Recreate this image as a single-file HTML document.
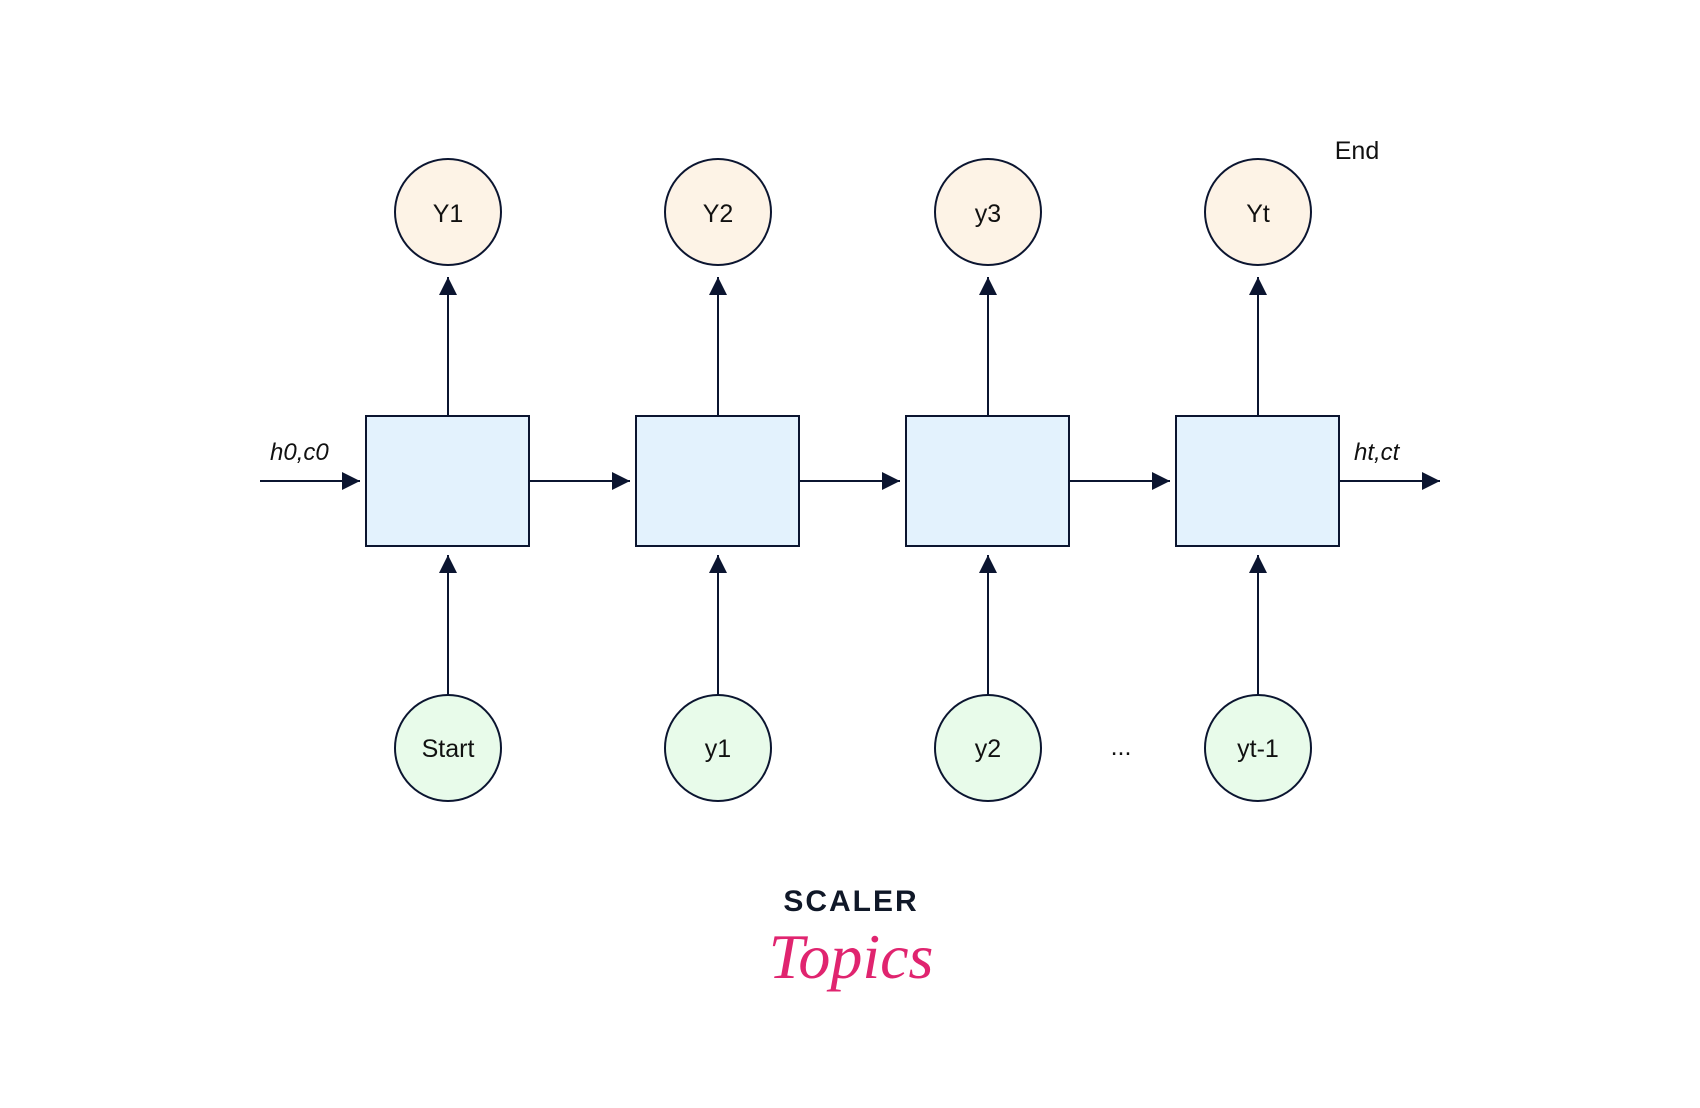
<!DOCTYPE html>
<html><head><meta charset="utf-8"><style>
html,body{margin:0;padding:0;background:#fff;}
svg{display:block;}
text{font-family:"Liberation Sans",sans-serif;fill:#111;}
</style></head><body>
<svg width="1700" height="1108" viewBox="0 0 1700 1108" xmlns="http://www.w3.org/2000/svg">
<defs>
<marker id="b" markerWidth="20" markerHeight="20" refX="18" refY="9" orient="auto" markerUnits="userSpaceOnUse">
<path d="M0,0 L18,9 L0,18 Z" fill="#0b1530"/>
</marker>
</defs>
<g stroke="#0b1530" stroke-width="2" fill="none">
<line x1="260" y1="481" x2="360" y2="481" marker-end="url(#b)"/>
<line x1="529" y1="481" x2="630" y2="481" marker-end="url(#b)"/>
<line x1="799" y1="481" x2="900" y2="481" marker-end="url(#b)"/>
<line x1="1069" y1="481" x2="1170" y2="481" marker-end="url(#b)"/>
<line x1="1339" y1="481" x2="1440" y2="481" marker-end="url(#b)"/>
</g>
<g stroke="#0b1530" stroke-width="2" fill="none">
<line x1="448" y1="416" x2="448" y2="277" marker-end="url(#b)"/>
<line x1="718" y1="416" x2="718" y2="277" marker-end="url(#b)"/>
<line x1="988" y1="416" x2="988" y2="277" marker-end="url(#b)"/>
<line x1="1258" y1="416" x2="1258" y2="277" marker-end="url(#b)"/>
<line x1="448" y1="695" x2="448" y2="555" marker-end="url(#b)"/>
<line x1="718" y1="695" x2="718" y2="555" marker-end="url(#b)"/>
<line x1="988" y1="695" x2="988" y2="555" marker-end="url(#b)"/>
<line x1="1258" y1="695" x2="1258" y2="555" marker-end="url(#b)"/>
</g>
<g fill="#e3f2fd" stroke="#0b1530" stroke-width="2">
<rect x="366" y="416" width="163" height="130"/>
<rect x="636" y="416" width="163" height="130"/>
<rect x="906" y="416" width="163" height="130"/>
<rect x="1176" y="416" width="163" height="130"/>
</g>
<g fill="#fdf3e6" stroke="#0b1530" stroke-width="2">
<circle cx="448" cy="212" r="53"/><circle cx="718" cy="212" r="53"/>
<circle cx="988" cy="212" r="53"/><circle cx="1258" cy="212" r="53"/>
</g>
<g fill="#e8fbea" stroke="#0b1530" stroke-width="2">
<circle cx="448" cy="748" r="53"/><circle cx="718" cy="748" r="53"/>
<circle cx="988" cy="748" r="53"/><circle cx="1258" cy="748" r="53"/>
</g>
<g font-size="25" text-anchor="middle">
<text x="448" y="222">Y1</text><text x="718" y="222">Y2</text>
<text x="988" y="222">y3</text><text x="1258" y="222">Yt</text>
<text x="448" y="757">Start</text><text x="718" y="757">y1</text>
<text x="988" y="757">y2</text><text x="1258" y="757">yt-1</text>
<text x="1121" y="755">...</text>
<text x="1357" y="159">End</text>
</g>
<g font-size="24" font-style="italic">
<text x="270" y="460">h0,c0</text>
<text x="1354" y="460">ht,ct</text>
</g>
<text x="851" y="911" text-anchor="middle" font-size="30" font-weight="bold" letter-spacing="2" style="fill:#101828">SCALER</text>
<text x="851" y="978" text-anchor="middle" font-size="64" font-style="italic" style="fill:#e0246f;font-family:'Liberation Serif',serif">Topics</text>
</svg>
</body></html>
